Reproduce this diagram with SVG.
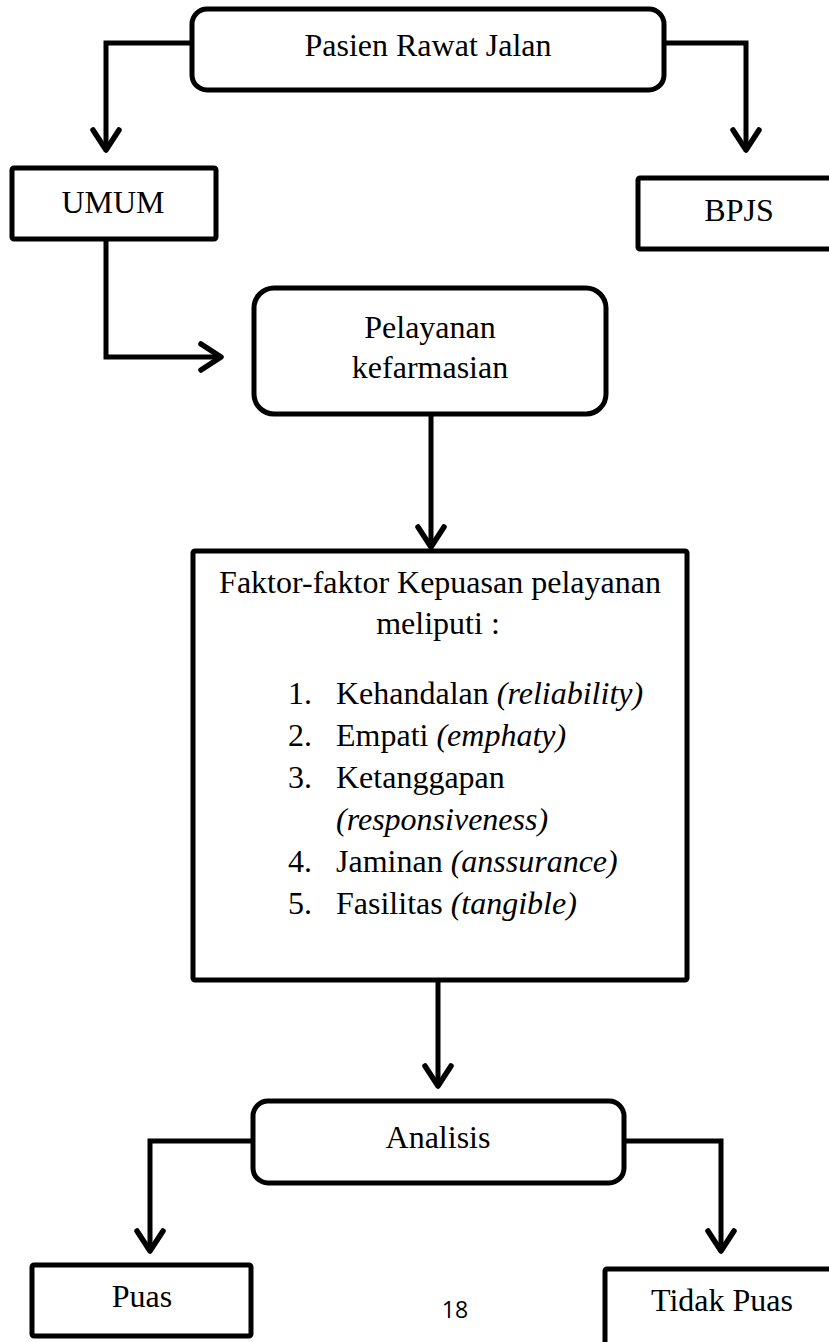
<svg xmlns="http://www.w3.org/2000/svg" width="829" height="1342" viewBox="0 0 829 1342">
<style>
.box{fill:#fff;stroke:#000;stroke-width:5;stroke-linejoin:round}
.t{font-family:"Liberation Serif","Times New Roman",serif;font-size:32px;fill:#000}
.c{text-anchor:middle}
.i{font-style:italic}
.ln{fill:none;stroke:#000;stroke-width:5;stroke-linejoin:miter}
</style>
<defs>
<marker id="ah" markerUnits="userSpaceOnUse" viewBox="-30 -20 40 40" markerWidth="40" markerHeight="40" refX="0" refY="0" orient="auto">
<path d="M-20,-13 L0,0 L-20,13" fill="none" stroke="#000" stroke-width="5.5" stroke-linecap="round" stroke-linejoin="round"/>
</marker>
</defs>
<rect width="829" height="1342" fill="#fff"/>
<g id="connectors">
<path class="ln" d="M192,43 H106 V150" marker-end="url(#ah)"/>
<path class="ln" d="M664,43 H746 V150" marker-end="url(#ah)"/>
<path class="ln" d="M106,239 V357 H221" marker-end="url(#ah)"/>
<path class="ln" d="M431,414 V547" marker-end="url(#ah)"/>
<path class="ln" d="M438,980 V1086" marker-end="url(#ah)"/>
<path class="ln" d="M253,1141 H150 V1251" marker-end="url(#ah)"/>
<path class="ln" d="M624,1141 H721 V1251" marker-end="url(#ah)"/>
</g>
<g id="pasien">
<rect class="box" x="192" y="9" width="472" height="81" rx="15"/>
<text class="t c" x="428" y="56">Pasien Rawat Jalan</text>
</g>
<g id="umum">
<rect class="box" x="12" y="168" width="204" height="71" rx="2"/>
<text class="t c" x="113" y="213">UMUM</text>
</g>
<g id="bpjs">
<rect class="box" x="638" y="178" width="200" height="71" rx="2"/>
<text class="t c" x="739" y="221">BPJS</text>
</g>
<g id="pelayanan">
<rect class="box" x="254" y="288" width="352" height="126" rx="20"/>
<text class="t c" x="430" y="338">Pelayanan</text>
<text class="t c" x="430" y="378">kefarmasian</text>
</g>
<g id="faktor">
<rect class="box" x="193" y="551" width="494" height="429" rx="2"/>
<text class="t c" x="440" y="593">Faktor-faktor Kepuasan pelayanan</text>
<text class="t c" x="438" y="634">meliputi :</text>
<text class="t" x="288" y="704">1.</text>
<text class="t" x="336" y="704">Kehandalan <tspan class="i">(reliability)</tspan></text>
<text class="t" x="288" y="746">2.</text>
<text class="t" x="336" y="746">Empati <tspan class="i">(emphaty)</tspan></text>
<text class="t" x="288" y="788">3.</text>
<text class="t" x="336" y="788">Ketanggapan</text>
<text class="t i" x="336" y="830">(responsiveness)</text>
<text class="t" x="288" y="872">4.</text>
<text class="t" x="336" y="872">Jaminan <tspan class="i">(anssurance)</tspan></text>
<text class="t" x="288" y="914">5.</text>
<text class="t" x="336" y="914">Fasilitas <tspan class="i">(tangible)</tspan></text>
</g>
<g id="analisis">
<rect class="box" x="253" y="1101" width="371" height="82" rx="15"/>
<text class="t c" x="438" y="1148">Analisis</text>
</g>
<g id="puas">
<rect class="box" x="32" y="1265" width="219" height="71" rx="2"/>
<text class="t c" x="142" y="1307">Puas</text>
</g>
<g id="tidakpuas">
<rect class="box" x="605" y="1269" width="240" height="90" rx="2"/>
<text class="t c" x="722" y="1311">Tidak Puas</text>
</g>
<text x="455" y="1318" font-family="'Open Sans','Noto Sans',sans-serif" font-size="23" text-anchor="middle" fill="#000">18</text>
</svg>
